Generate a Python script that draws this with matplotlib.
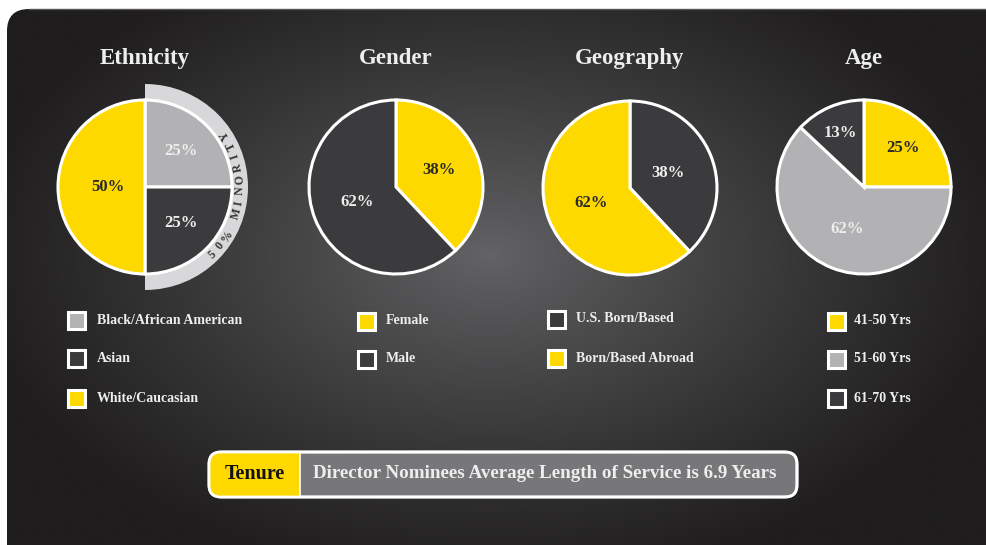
import numpy as np
import matplotlib
matplotlib.use("Agg")
import matplotlib.pyplot as plt
from matplotlib.patches import Wedge, FancyBboxPatch, Rectangle

# ---------------- data ----------------
titles = ["Ethnicity", "Gender", "Geography", "Age"]

eth_labels = ["Black/African American", "Asian", "White/Caucasian"]
eth_values = [25, 25, 50]

gender_labels = ["Female", "Male"]
gender_values = [38, 62]

geo_labels = ["U.S. Born/Based", "Born/Based Abroad"]
geo_values = [38, 62]

age_labels = ["41-50 Yrs", "51-60 Yrs", "61-70 Yrs"]
age_values = [25, 62, 13]

minority_text = "50% MINORITY"
tenure_label = "Tenure"
tenure_text = "Director Nominees Average Length of Service is 6.9 Years"

# ---------------- style ----------------
YEL = "#fdd900"
LGR = "#b2b2b4"
DRK = "#3b3b3d"
W, H = 987, 545
SERIF = ["Liberation Serif", "DejaVu Serif"]

def Y(y):
    return H - y

fig = plt.figure(figsize=(W / 100, H / 100), dpi=100)
ax = fig.add_axes([0, 0, 1, 1])
ax.set_xlim(0, W)
ax.set_ylim(0, H)
ax.set_aspect("equal")
ax.axis("off")
fig.patch.set_facecolor("white")

# background panel with radial gradient
bg = FancyBboxPatch((7, -30), W + 40, Y(9) + 30, boxstyle="round,pad=0,rounding_size=22",
                    facecolor="none", edgecolor="none")
ax.add_patch(bg)
xx, yy = np.meshgrid(np.linspace(0, W, 400), np.linspace(0, H, 240))
cx, cy = 490, Y(255)
d = np.sqrt(((xx - cx) / 520) ** 2 + ((yy - cy) / 330) ** 2)
d = np.clip(d, 0, 1)
c0 = np.array([0x64, 0x64, 0x66]) / 255
c1 = np.array([0x1f, 0x1d, 0x1e]) / 255
t = d[..., None] ** 0.85
img = c0 * (1 - t) + c1 * t
im = ax.imshow(img, extent=[0, W, 0, H], origin="lower", zorder=0, interpolation="bilinear")
im.set_clip_path(bg)
ax.plot([7 + 22, W], [Y(9), Y(9)], color="#555555", lw=1, zorder=0.5)

# ---------------- pies ----------------
centers = [(145, 187), (396, 187), (630, 188), (864, 187)]
R = 87
pies = [
    (eth_values, [LGR, DRK, YEL], [0.58, 0.58, 0.43], ["#eeeeee", "#eeeeee", "#2a2a2a"]),
    (gender_values, [YEL, DRK], [0.53, 0.48], ["#2a2a2a", "#eeeeee"]),
    (geo_values, [DRK, YEL], [0.47, 0.48], ["#eeeeee", "#2a2a2a"]),
    (age_values, [YEL, LGR, DRK], [0.64, 0.52, 0.68], ["#2a2a2a", "#eeeeee", "#eeeeee"]),
]

# minority ring behind ethnicity pie
ecx, ecy = centers[0]
ax.add_patch(Wedge((ecx, Y(ecy)), 103, -90, 90, facecolor="#d8d8da", edgecolor="none", zorder=1))

for (vals, cols, dists, tcols), (cx_, cy_), title in zip(pies, centers, titles):
    wedges, _ = ax.pie(vals, colors=cols, startangle=90, counterclock=False,
                       radius=R, center=(cx_, Y(cy_)), frame=True,
                       wedgeprops=dict(edgecolor="white", linewidth=2.2))
    for w in wedges:
        w.set_zorder(2)
    total = float(sum(vals))
    start = 90.0
    for v, dist, tc in zip(vals, dists, tcols):
        span = v / total * 360
        mid = np.deg2rad(start - span / 2)
        start -= span
        ax.text(cx_ + dist * R * np.cos(mid), Y(cy_) + dist * R * np.sin(mid),
                f"{v / total * 100:.0f}%", ha="center", va="center",
                fontsize=12, fontweight="bold", color=tc, family=SERIF, zorder=3)
    ax.text(cx_, Y(58), title, ha="center", va="center", fontsize=16.5,
            fontweight="bold", color="#eeeeee", family=SERIF, zorder=3)

# pie() resets limits; restore
ax.set_xlim(0, W)
ax.set_ylim(0, H)
ax.axis("off")

# curved "50% MINORITY"
angs = np.linspace(-45, 33, len(minority_text))
for ch, a in zip(minority_text, angs):
    r = 95.5
    ax.text(ecx + r * np.cos(np.deg2rad(a)), Y(ecy) + r * np.sin(np.deg2rad(a)), ch,
            rotation=a + 90, ha="center", va="center", fontsize=8.5, fontweight="bold",
            color="#333333", family=SERIF, zorder=3, rotation_mode="anchor")

# ---------------- legends ----------------
legend_specs = [
    (eth_labels, [LGR, DRK, YEL], 68, 97, [320, 358, 398]),
    (gender_labels, [YEL, DRK], 358, 386, [321, 359]),
    (geo_labels, [DRK, YEL], 548, 576, [319, 358]),
    (age_labels, [YEL, LGR, DRK], 828, 854, [321, 359, 398]),
]
for labels, cols, sx, tx, ys in legend_specs:
    for lab, col, yy_ in zip(labels, cols, ys):
        ax.add_patch(Rectangle((sx, Y(yy_) - 8.5), 17, 17, facecolor=col,
                               edgecolor="white", linewidth=2.2, zorder=3))
        ax.text(tx, Y(yy_), lab, ha="left", va="center", fontsize=10,
                fontweight="bold", color="#eeeeee", family=SERIF, zorder=3)

# ---------------- tenure box ----------------
bx0, bx1, by0, by1 = 209, 797, 452, 497
ysplit = 300
outer = FancyBboxPatch((bx0, Y(by1)), bx1 - bx0, by1 - by0,
                       boxstyle="round,pad=0,rounding_size=12",
                       facecolor="#77777a", edgecolor="white", linewidth=2, zorder=3)
ax.add_patch(outer)
yel = Rectangle((bx0, Y(by1)), ysplit - bx0, by1 - by0, facecolor=YEL, edgecolor="none", zorder=3.1)
yel.set_clip_path(outer)
ax.add_patch(yel)
border = FancyBboxPatch((bx0, Y(by1)), bx1 - bx0, by1 - by0,
                        boxstyle="round,pad=0,rounding_size=12",
                        facecolor="none", edgecolor="white", linewidth=2, zorder=3.2)
ax.add_patch(border)
ax.plot([ysplit, ysplit], [Y(by1), Y(by0)], color="white", lw=1.2, zorder=3.2)
ax.text((bx0 + ysplit) / 2, Y(474), tenure_label, ha="center", va="center", fontsize=14.5,
        fontweight="bold", color="#111111", family=SERIF, zorder=4)
ax.text(313, Y(474), tenure_text, ha="left", va="center", fontsize=13.7,
        fontweight="bold", color="#eeeeee", family=SERIF, zorder=4)

fig.savefig("out.png", dpi=100, facecolor="white")
